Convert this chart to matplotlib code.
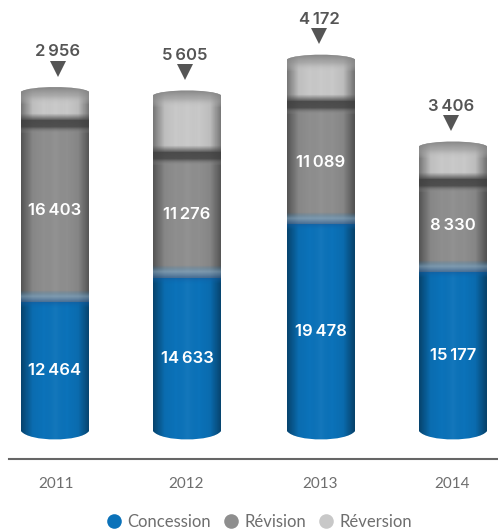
import matplotlib
matplotlib.use('Agg')
import matplotlib.pyplot as plt
import numpy as np
from matplotlib.lines import Line2D
from matplotlib.path import Path
from matplotlib.patches import PathPatch
from matplotlib.colors import LinearSegmentedColormap

years = ['2011', '2012', '2013', '2014']
concession = [12464, 14633, 19478, 15177]
revision = [16403, 11276, 11089, 8330]
reversion = [2956, 5605, 4172, 3406]

BLUE = '#0b72b9'
GREY = '#8e8e8e'
LIGHT = '#c8c8c8'
TEXT = '#555555'
THIN_TEXT = '#6e6e6e'

bar_x = [55, 187, 321, 453]
tick_x = [56, 186, 320, 452]
bar_w = 68
PX = 1 / 0.0111  # data units per pixel
BOTTOM_CURVE = 9 * PX
TOP_CURVE = 5 * PX

plt.rcParams['font.family'] = ['Lato', 'DejaVu Sans']
VALUE_FONT = ['Inter', 'DejaVu Sans']

fig = plt.figure(figsize=(4.98, 5.29), dpi=100)
ax = fig.add_axes([9 / 498, 70 / 529, 489 / 498, 459 / 529])
ax.set_xlim(9, 498)
ax.set_ylim(-19 * PX, 440 * PX)


def cylinder(x0, x1, top):
    inset = (x1 - x0) * 0.12
    verts = [(x0, BOTTOM_CURVE), (x0 + inset, -BOTTOM_CURVE / 4), (x1 - inset, -BOTTOM_CURVE / 4), (x1, BOTTOM_CURVE),
             (x1, top - TOP_CURVE), (x1 - inset, top + TOP_CURVE / 4), (x0 + inset, top + TOP_CURVE / 4),
             (x0, top - TOP_CURVE), (x0, BOTTOM_CURVE)]
    codes = [Path.MOVETO, Path.CURVE4, Path.CURVE4, Path.CURVE4, Path.LINETO,
             Path.CURVE4, Path.CURVE4, Path.CURVE4, Path.CLOSEPOLY]
    return PathPatch(Path(verts, codes), transform=ax.transData, facecolor='none', edgecolor='none')


def overlay(x0, x1, y0, y1, rgba, clip):
    # rgba runs from y0 to y1, or sideways when it has a single row
    im = ax.imshow(rgba, extent=(x0, x1, y0, y1), origin='lower', aspect='auto',
                   interpolation='bilinear', zorder=3)
    im.set_clip_path(clip)


side_shade = LinearSegmentedColormap.from_list(
    'side', [(0, 0, 0, 0.40), (0, 0, 0, 0.05), (0, 0, 0, 0.0), (1, 1, 1, 0.04),
             (0, 0, 0, 0.0), (0, 0, 0, 0.06), (0, 0, 0, 0.42)])
side = side_shade(np.linspace(0, 1, 68))[np.newaxis, :, :]
band = LinearSegmentedColormap.from_list(
    'band', [(0.3, 0.3, 0.3, 0.0), (0.25, 0.25, 0.25, 0.85), (0.25, 0.25, 0.25, 0.8), (0.6, 0.6, 0.6, 0.0)])
band_img = band(np.linspace(0, 1, 24))[::-1][:, np.newaxis, :]
cap = LinearSegmentedColormap.from_list(
    'cap', [(0.5, 0.5, 0.5, 0.9), (0.6, 0.6, 0.6, 0.6), (0.8, 0.8, 0.8, 0.0)])
cap_img = cap(np.linspace(0, 1, 24))[::-1][:, np.newaxis, :]
edge = LinearSegmentedColormap.from_list(
    'edge', [(0.04, 0.44, 0.72, 0.0), (0.45, 0.65, 0.8, 0.55), (0.1, 0.35, 0.6, 0.6), (0.05, 0.4, 0.68, 0.0)])
edge_img = edge(np.linspace(0, 1, 24))[::-1][:, np.newaxis, :]

for i, x in enumerate(bar_x):
    c, r, v = concession[i], revision[i], reversion[i]
    total = c + r + v
    x0, x1 = x - bar_w / 2, x + bar_w / 2
    clip = cylinder(x0, x1, total)
    ax.add_patch(clip)
    for b in ax.bar(x, c, bar_w, color=BLUE, zorder=2):
        b.set_clip_path(clip)
    for b in ax.bar(x, r, bar_w, bottom=c, color=GREY, zorder=2):
        b.set_clip_path(clip)
    for b in ax.bar(x, v, bar_w, bottom=c + r, color=LIGHT, zorder=2):
        b.set_clip_path(clip)

    overlay(x0, x1, 0, total, side, clip)
    overlay(x0, x1, c + r - 14 * PX, c + r + 7 * PX, band_img, clip)
    overlay(x0, x1, total - 18 * PX, total, cap_img, clip)
    overlay(x0, x1, c - 6 * PX, c + 12 * PX, edge_img, clip)

    mark_x = x + 3 if i == 0 else x - 2
    ax.text(x, c / 2, f'{c:,}'.replace(',', '\u2009'), color='white', fontsize=12,
            family=VALUE_FONT, fontweight='semibold', ha='center', va='center', zorder=5)
    ax.text(x, c + r / 2, f'{r:,}'.replace(',', '\u2009'), color='white', fontsize=12,
            family=VALUE_FONT, fontweight='semibold', ha='center', va='center', zorder=5)
    ax.plot(mark_x, total + 18 * PX, marker='v', markersize=11.5,
            color=TEXT, markeredgewidth=0, zorder=5)
    ax.text(mark_x, total + 35 * PX, f'{v:,}'.replace(',', '\u2009'), color=TEXT, fontsize=12,
            family=VALUE_FONT, fontweight='semibold', ha='center', va='center', zorder=5)

ax.set_xticks(tick_x)
ax.set_xticklabels(years, fontsize=11, color=THIN_TEXT)
ax.tick_params(axis='x', length=0, pad=13)
ax.set_yticks([])
ax.set_facecolor('none')
for side_name in ['top', 'left', 'right']:
    ax.spines[side_name].set_visible(False)
ax.spines['bottom'].set_color('#666666')
ax.spines['bottom'].set_linewidth(1.5)

handles = [Line2D([], [], marker='o', linestyle='none', color=col, markersize=10.5, markeredgewidth=0)
           for col in (BLUE, GREY, LIGHT)]
legend = fig.legend(handles, ['Concession', 'Révision', 'Réversion'], loc='lower center', ncol=3,
                    bbox_to_anchor=(0.52, -0.03), frameon=False, labelcolor=THIN_TEXT,
                    handlelength=0.9, handletextpad=0.35, columnspacing=0.75,
                    prop={'family': 'Lato', 'size': 12})

fig.savefig('out.png', dpi=100)
plt.close(fig)
